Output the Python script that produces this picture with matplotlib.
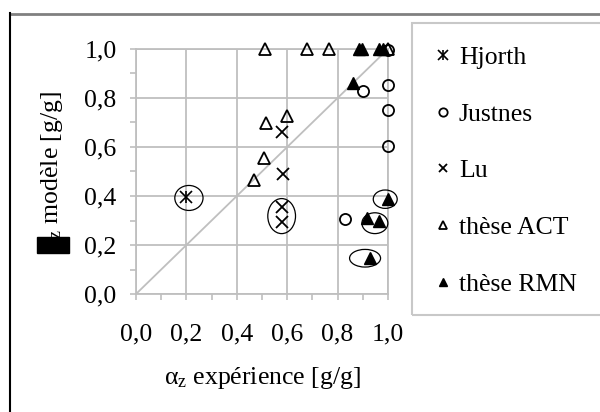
import numpy as np
import matplotlib.pyplot as plt
from matplotlib.patches import Ellipse, Rectangle
from matplotlib.lines import Line2D

plt.rcParams['font.family'] = ['Liberation Serif', 'DejaVu Serif']
plt.rcParams['mathtext.fontset'] = 'custom'
plt.rcParams['mathtext.rm'] = 'Liberation Serif'
plt.rcParams['mathtext.it'] = 'Liberation Serif:italic'

# alpha_z : experience (x) / modele (y)
hjorth_x = [0.20]
hjorth_y = [0.395]

justnes_x = [0.90, 1.00, 1.00, 1.00, 0.83, 1.00]
justnes_y = [0.83, 0.855, 0.75, 0.605, 0.305, 0.995]

lu_x = [0.578, 0.582, 0.578, 0.578]
lu_y = [0.66, 0.49, 0.355, 0.295]

act_x = [0.51, 0.68, 0.767, 0.515, 0.60, 0.508, 0.468, 1.00]
act_y = [1.00, 1.00, 1.00, 0.70, 0.725, 0.555, 0.466, 1.00]

rmn_x = [0.863, 0.883, 0.897, 0.963, 0.98, 1.00, 0.916, 0.963, 0.93]
rmn_y = [0.862, 1.00, 1.00, 1.00, 1.00, 0.387, 0.309, 0.296, 0.146]

# points entoures : (centre x, centre y, largeur, hauteur)
cercles = [
    (0.21, 0.392, 0.112, 0.102),
    (0.578, 0.318, 0.11, 0.143),
    (0.989, 0.387, 0.095, 0.075),
    (0.948, 0.289, 0.103, 0.085),
    (0.909, 0.146, 0.123, 0.072),
]

ticks = [0.0, 0.2, 0.4, 0.6, 0.8, 1.0]
tick_labels = ['0,0', '0,2', '0,4', '0,6', '0,8', '1,0']

fs = 18.5
gris = '#bfbfbf'

fig = plt.figure(figsize=(6, 4.12), dpi=100)
ax = fig.add_axes([136/600, 1 - 294/412, 252/600, 245/412])

ax.plot([0, 1], [0, 1], color=gris, lw=1.3, zorder=1)

# Hjorth : croix + trait vertical
h1a, = ax.plot(hjorth_x, hjorth_y, linestyle='none', marker='x', ms=9,
               mec='black', mew=1.2, clip_on=False, zorder=3)
h1b, = ax.plot(hjorth_x, hjorth_y, linestyle='none', marker='|', ms=9,
               mec='black', mew=1.2, clip_on=False, zorder=3)
h2, = ax.plot(justnes_x, justnes_y, linestyle='none', marker='o', ms=8,
              mfc='none', mec='black', mew=1.3, clip_on=False, zorder=3)
h3, = ax.plot(lu_x, lu_y, linestyle='none', marker='x', ms=8,
              mec='black', mew=1.3, clip_on=False, zorder=3)
h4, = ax.plot(act_x, act_y, linestyle='none', marker='^', ms=8,
              mfc='none', mec='black', mew=1.3, clip_on=False, zorder=3)
h5, = ax.plot(rmn_x, rmn_y, linestyle='none', marker='^', ms=8,
              mfc='black', mec='black', mew=1.0, clip_on=False, zorder=4)

for cx, cy, w, h in cercles:
    ax.add_patch(Ellipse((cx, cy), w, h, fill=False, ec='black', lw=0.9,
                         clip_on=False, zorder=5))

ax.set_xlim(0, 1)
ax.set_ylim(0, 1)
ax.set_xticks(ticks)
ax.set_yticks(ticks)
ax.set_xticklabels(tick_labels)
ax.set_yticklabels(tick_labels)
ax.set_xticks(np.arange(0.1, 1.0, 0.2), minor=True)
ax.set_yticks(np.arange(0.1, 1.0, 0.2), minor=True)
ax.tick_params(which='both', color=gris, width=1.2, length=4)
ax.tick_params(axis='x', which='major', labelsize=fs, pad=17)
ax.tick_params(axis='y', which='major', labelsize=fs, pad=10)
ax.grid(True, which='major', color=gris, lw=1.3)
for s in ax.spines.values():
    s.set_color(gris)
    s.set_linewidth(1.3)

fig.text(262/600, 1 - 378/412, 'α$_\\mathrm{z}$ expérience [g/g]',
         fontsize=fs, ha='center', va='center')
fig.text(52/600, 1 - 171/412, 'α$_\\mathrm{z}$ modèle [g/g]',
         fontsize=fs, ha='center', va='center', rotation=90)
fig.add_artist(Rectangle((37/600, 1 - 253/412), 32/600, 16/412,
                         transform=fig.transFigure, color='black', zorder=10))

# legende dans son cadre
fig.add_artist(Rectangle((412/600, 1 - 315/412), 0.4, 292/412,
                         transform=fig.transFigure, fill=False,
                         ec='#c8c8c8', lw=1.5))
fig.legend([(h1a, h1b), h2, h3, h4, h5],
           ['Hjorth', 'Justnes', 'Lu', 'thèse ACT', 'thèse RMN'],
           loc='upper left', bbox_to_anchor=(437/600, 1 - 46/412),
           frameon=False, fontsize=fs, markerscale=0.75,
           handlelength=0.5, handletextpad=0.35, labelspacing=1.31,
           borderpad=0, borderaxespad=0)

# bordure exterieure
fig.add_artist(Line2D([10/600, 1], [1 - 14/412, 1 - 14/412],
                      transform=fig.transFigure, color='#808080', lw=2))
fig.add_artist(Line2D([10/600, 10/600], [0, 1 - 13/412],
                      transform=fig.transFigure, color='black', lw=1.5))

fig.savefig('out.png', dpi=100)
